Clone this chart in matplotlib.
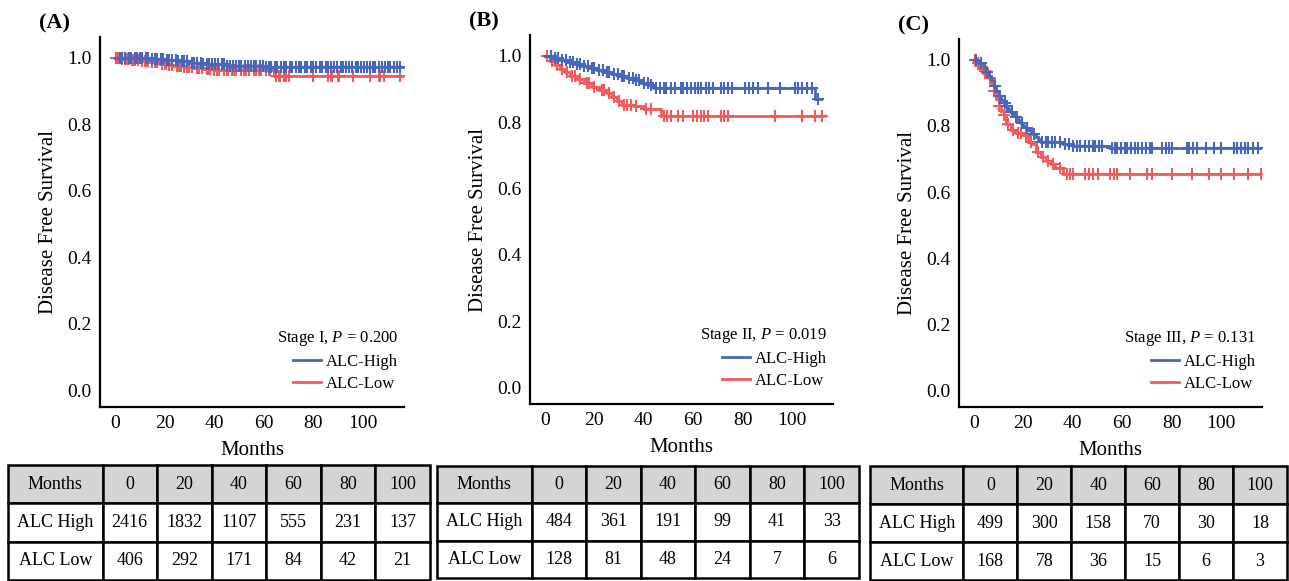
import numpy as np
import matplotlib
matplotlib.use("Agg")
import matplotlib.pyplot as plt
from matplotlib.lines import Line2D
from matplotlib.patches import Rectangle

plt.rcParams['font.family'] = ['Liberation Serif', 'DejaVu Serif']
plt.rcParams['mathtext.fontset'] = 'custom'
plt.rcParams['mathtext.rm'] = 'Liberation Serif'
plt.rcParams['mathtext.it'] = 'Liberation Serif:italic'

BLUE = '#4767bd'
RED = '#f25b5b'

# ---- Panel A: Stage I ----
a_high_t = [0, 8, 14, 20, 25, 30, 35, 45, 60]
a_high_s = [1.0, 0.998, 0.996, 0.993, 0.989, 0.985, 0.980, 0.976, 0.973]
a_high_end = 116
a_high_cens = [2, 3, 4, 5.5, 6.5, 8, 9, 10, 11, 12.5, 13.5, 15, 16, 17, 18.5, 19.5, 21,
               22, 23, 24.5, 25.5, 27, 28, 29, 31, 32, 33, 34.5, 35.5, 37, 38, 39, 40.5,
               41.5, 43, 44, 45, 46.5, 47.5, 49, 50, 51, 52.5, 53.5, 55, 56, 57, 58.5,
               59.5, 61, 62, 63, 64.5, 65.5, 67, 68, 69, 70.5, 71.5, 73, 74, 75, 76.5,
               77.5, 79, 80, 81, 82.5, 83.5, 85, 86, 87, 88.5, 89.5, 91, 92, 93, 94.5,
               95.5, 97, 98, 99, 100.5, 101.5, 103, 104, 105, 106.5, 107.5, 109, 110,
               111, 112.5, 113.5, 115]
a_low_t = [0, 3, 6, 10, 14, 18, 21, 24, 28, 32, 36, 40, 64]
a_low_s = [1.0, 0.996, 0.993, 0.990, 0.986, 0.982, 0.978, 0.974, 0.971, 0.968, 0.966, 0.963, 0.946]
a_low_end = 116
a_low_cens = [0.5, 1, 1.5, 2.5, 3, 4, 5, 5.5, 7, 7.5, 8, 9.5, 11, 12, 13, 13.5, 15, 16,
              17, 19, 20, 20.5, 22, 23, 25, 26, 26.5, 28, 29, 30, 31, 33, 34, 35, 37,
              38, 38.5, 40, 41, 42, 44, 45, 45.5, 47, 48, 49, 51, 52, 53, 54, 56, 57,
              58, 59, 61, 62, 62.5, 65, 66, 66.5, 68, 69, 70, 80, 86, 87, 87.5, 90,
              90.5, 96, 103, 106.5, 107, 108.5, 115]

# ---- Panel B: Stage II ----
b_high_t = [0, 3, 6, 9, 12, 15, 18, 21, 24, 27, 30, 33, 36, 39, 42, 44, 109]
b_high_s = [1.0, 0.993, 0.986, 0.980, 0.974, 0.968, 0.963, 0.957, 0.950, 0.944, 0.938,
            0.932, 0.926, 0.919, 0.912, 0.903, 0.868]
b_high_end = 111.5
b_high_cens = [2.5, 4, 5.5, 7, 8.5, 10, 11.5, 13, 14, 16, 17.5, 19, 20, 22, 23.5, 25, 26,
               28, 29.5, 31, 32, 34, 35.5, 37, 38, 40, 41.5, 43, 45, 46.5, 48, 49, 51,
               52.5, 55, 56, 57.5, 59, 60.5, 62, 63, 65, 66.5, 68, 71, 72.5, 74, 75.5,
               81, 82.5, 84, 86, 90, 95, 101, 102.5, 104, 106, 108, 110.5]
b_low_t = [0, 2, 4, 6, 8, 10, 13, 16, 19, 22, 25, 27, 29, 31, 36, 40, 47]
b_low_s = [1.0, 0.985, 0.972, 0.960, 0.950, 0.940, 0.930, 0.918, 0.906, 0.897, 0.888,
           0.876, 0.864, 0.852, 0.848, 0.840, 0.818]
b_low_end = 113
b_low_cens = [1, 3, 5, 7, 9, 11, 12, 14, 17, 18, 20, 23, 24, 26, 28, 30, 32, 33, 35,
              37, 41, 43, 48, 49.5, 51, 54, 56, 60, 61.5, 63, 64.5, 66, 71, 72.5, 74,
              93, 104, 109, 112]

# ---- Panel C: Stage III ----
c_high_t = [0, 2, 4, 5, 6, 7, 8, 9, 10, 11, 12, 13, 14, 15, 16, 17, 18, 19, 20, 21,
            22, 23, 24, 25, 26, 27, 36, 40, 55]
c_high_s = [1.0, 0.990, 0.975, 0.963, 0.950, 0.938, 0.920, 0.905, 0.890, 0.878, 0.868,
            0.860, 0.852, 0.843, 0.835, 0.826, 0.817, 0.810, 0.800, 0.795, 0.788, 0.782,
            0.775, 0.767, 0.760, 0.752, 0.745, 0.739, 0.733]
c_high_end = 117
c_high_cens = [1, 3, 5.5, 8.5, 10.5, 12.5, 13.5, 15.5, 17, 19.5, 21.5, 24.5, 27.5,
               29, 30, 31.5, 33, 35, 37, 38.5, 40, 41.5, 43, 45, 46.5, 48, 49, 50.5,
               52, 56, 57, 58, 59.5, 61, 62, 63.5, 65, 66.5, 68, 69.5, 71, 72,
               76, 77.5, 79, 80, 86, 87, 88.5, 90, 94, 97, 100, 105, 106.5, 108, 109.5,
               111, 113, 115]
c_low_t = [0, 1, 2, 3, 4, 5, 6, 7, 8, 9, 10, 11, 12, 13, 15, 17, 20, 22, 24, 25, 27,
           29, 31, 33, 36]
c_low_s = [1.0, 0.990, 0.980, 0.972, 0.965, 0.958, 0.945, 0.925, 0.905, 0.880, 0.860,
           0.845, 0.833, 0.805, 0.788, 0.778, 0.772, 0.752, 0.745, 0.722, 0.707, 0.695,
           0.685, 0.672, 0.655]
c_low_end = 117
c_low_cens = [0.5, 1.5, 2.5, 3.5, 4.5, 6.5, 8, 10, 12, 14, 16, 18, 19, 21, 23, 26,
              28, 30, 32, 35, 37.5, 39, 40, 45, 46.5, 48, 50, 55, 56.5, 58, 63, 70,
              72, 80, 88, 95, 100, 105, 111, 116]

# ---- Number at risk tables ----
table_months = ['0', '20', '40', '60', '80', '100']
a_risk_high = [2416, 1832, 1107, 555, 231, 137]
a_risk_low = [406, 292, 171, 84, 42, 21]
b_risk_high = [484, 361, 191, 99, 41, 33]
b_risk_low = [128, 81, 48, 24, 7, 6]
c_risk_high = [499, 300, 158, 70, 30, 18]
c_risk_low = [168, 78, 36, 15, 6, 3]


def draw_curve(ax, t, s, end, cens, color):
    t = np.array(t, dtype=float)
    s = np.array(s, dtype=float)
    ax.step(np.append(t, end), np.append(s, s[-1]), where='post', color=color,
            lw=2.0, solid_joinstyle='miter')
    cens = np.array(cens, dtype=float)
    cy = s[np.searchsorted(t, cens, side='right') - 1]
    ax.plot(cens, cy, ls='none', marker='+', ms=8, mew=1.5, color=color)


def draw_panel(fig, rect, letter, title, high, low):
    ax = fig.add_axes(rect)
    draw_curve(ax, *low, RED)
    draw_curve(ax, *high, BLUE)
    ax.set_xlim(-6, 116.5)
    ax.set_ylim(-0.05, 1.062)
    ax.set_xticks([0, 20, 40, 60, 80, 100])
    ax.set_yticks([0.0, 0.2, 0.4, 0.6, 0.8, 1.0])
    ax.set_yticklabels(['0.0', '0.2', '0.4', '0.6', '0.8', '1.0'])
    ax.tick_params(length=0, labelsize=14)
    ax.tick_params(axis='y', pad=6)
    ax.tick_params(axis='x', pad=6)
    for side in ['top', 'right']:
        ax.spines[side].set_visible(False)
    for side in ['left', 'bottom']:
        ax.spines[side].set_linewidth(1.6)
    ax.set_xlabel('Months', fontsize=15, labelpad=6)
    ax.set_ylabel('Disease Free Survival', fontsize=15, labelpad=7)
    handles = [Line2D([], [], color=BLUE, lw=2), Line2D([], [], color=RED, lw=2)]
    ax.legend(handles, ['ALC-High', 'ALC-Low'], loc='lower right',
              bbox_to_anchor=(1.03, 0.0), frameon=False, fontsize=12,
              title=title, title_fontsize=12, alignment='right',
              handlelength=1.7, handletextpad=0.3, labelspacing=0.35)
    ax.text(-0.2, 1.01, letter, transform=ax.transAxes, fontsize=16,
            fontweight='bold', va='bottom', ha='left')
    return ax


def draw_table(fig, rect, high, low):
    ax = fig.add_axes(rect)
    ax.set_xlim(0, 1)
    ax.set_ylim(0, 3)
    ax.axis('off')
    widths = [0.224] + [0.1293] * 6
    edges = np.concatenate([[0], np.cumsum(widths)])
    rows = [['Months'] + table_months,
            ['ALC High'] + [str(v) for v in high],
            ['ALC Low'] + [str(v) for v in low]]
    for r, row in enumerate(rows):
        y0 = 2 - r
        for c, txt in enumerate(row):
            face = '#d4d4d4' if r == 0 else 'white'
            ax.add_patch(Rectangle((edges[c], y0), widths[c], 1, facecolor=face,
                                   edgecolor='black', lw=1.8, clip_on=False))
            ax.text(edges[c] + widths[c] / 2, y0 + 0.5, txt, ha='center',
                    va='center', fontsize=13)
    return ax


fig = plt.figure(figsize=(12.89, 5.81), dpi=100)

draw_panel(fig, [0.0776, 0.2995, 0.2358, 0.637], '(A)', r'Stage I, $P$ = 0.200',
           (a_high_t, a_high_s, a_high_end, a_high_cens),
           (a_low_t, a_low_s, a_low_end, a_low_cens))
draw_panel(fig, [0.4112, 0.3046, 0.2351, 0.635], '(B)', r'Stage II, $P$ = 0.019',
           (b_high_t, b_high_s, b_high_end, b_high_cens),
           (b_low_t, b_low_s, b_low_end, b_low_cens))
draw_panel(fig, [0.744, 0.2995, 0.2351, 0.633], '(C)', r'Stage III, $P$ = 0.131',
           (c_high_t, c_high_s, c_high_end, c_high_cens),
           (c_low_t, c_low_s, c_low_end, c_low_cens))

# number at risk tables under each panel (pixel boxes converted to figure fractions)
draw_table(fig, [8 / 1289, 1 / 581, 422 / 1289, 115 / 581], a_risk_high, a_risk_low)
draw_table(fig, [437 / 1289, 3 / 581, 422 / 1289, 112 / 581], b_risk_high, b_risk_low)
draw_table(fig, [870 / 1289, 1 / 581, 417 / 1289, 114 / 581], c_risk_high, c_risk_low)

fig.savefig('out.png', dpi=100)
